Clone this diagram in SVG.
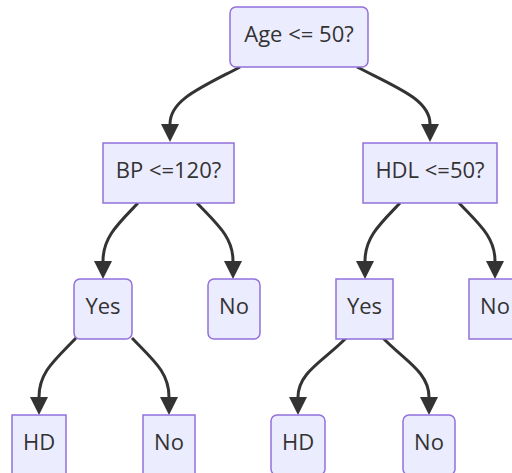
<svg xmlns="http://www.w3.org/2000/svg" width="512" height="473" viewBox="0 0 512 473">
<style>
.node rect{fill:#ECECFF;stroke:#9370DB;stroke-width:1.5}
.node text{font-family:"Open Sans","Liberation Sans",sans-serif;font-size:22px;fill:#333;text-anchor:middle}
.edges path{fill:none;stroke:#333;stroke-width:3}
</style>
<defs>
<marker id="arrow" markerUnits="userSpaceOnUse" viewBox="0 0 18 18" refX="0" refY="9" markerWidth="18" markerHeight="18" orient="auto">
<path d="M0,0 L18,9 L0,18 z" fill="#333"/>
</marker>
</defs>
<rect width="512" height="473" fill="#fff"/>
<g class="edges">
<path d="M240,67 C200,88 170,100 170,124" marker-end="url(#arrow)"/>
<path d="M357,67 C398,88 430,100 430,124" marker-end="url(#arrow)"/>
<path d="M138,203 C118,224 103,237 103,261" marker-end="url(#arrow)"/>
<path d="M197,203 C217,224 233,237 233,261" marker-end="url(#arrow)"/>
<path d="M400,203 C380,224 365,237 365,261" marker-end="url(#arrow)"/>
<path d="M459,203 C479,224 495,237 495,261" marker-end="url(#arrow)"/>
<path d="M76,338 C55,360 39,372 39,397" marker-end="url(#arrow)"/>
<path d="M132,338 C153,360 169,372 169,397" marker-end="url(#arrow)"/>
<path d="M346,338 C325,360 298,372 298,397" marker-end="url(#arrow)"/>
<path d="M383,338 C404,360 429,372 429,397" marker-end="url(#arrow)"/>
</g>
<g id="age" class="node"><rect x="230" y="7" width="138" height="60" rx="6"/><text x="299" y="41.5">Age &lt;= 50?</text></g>
<g id="bp" class="node"><rect x="103" y="143" width="131" height="60"/><text x="168.5" y="177.5">BP &lt;=120?</text></g>
<g id="hdl" class="node"><rect x="363" y="143" width="134" height="60"/><text x="430" y="177.5">HDL &lt;=50?</text></g>
<g id="yes1" class="node"><rect x="74" y="279" width="58" height="60" rx="6"/><text x="103" y="313.5">Yes</text></g>
<g id="no1" class="node"><rect x="208" y="279" width="52" height="60" rx="6"/><text x="234" y="313.5">No</text></g>
<g id="yes2" class="node"><rect x="336" y="279" width="57" height="60"/><text x="364.5" y="313.5">Yes</text></g>
<g id="no2" class="node"><rect x="469" y="279" width="52" height="60"/><text x="495" y="313.5">No</text></g>
<g id="hd1" class="node"><rect x="12" y="415" width="54" height="60"/><text x="39" y="449.5">HD</text></g>
<g id="no3" class="node"><rect x="143" y="415" width="52" height="60"/><text x="169" y="449.5">No</text></g>
<g id="hd2" class="node"><rect x="271" y="415" width="54" height="60" rx="6"/><text x="298" y="449.5">HD</text></g>
<g id="no4" class="node"><rect x="403" y="415" width="52" height="60" rx="6"/><text x="429" y="449.5">No</text></g>
</svg>
